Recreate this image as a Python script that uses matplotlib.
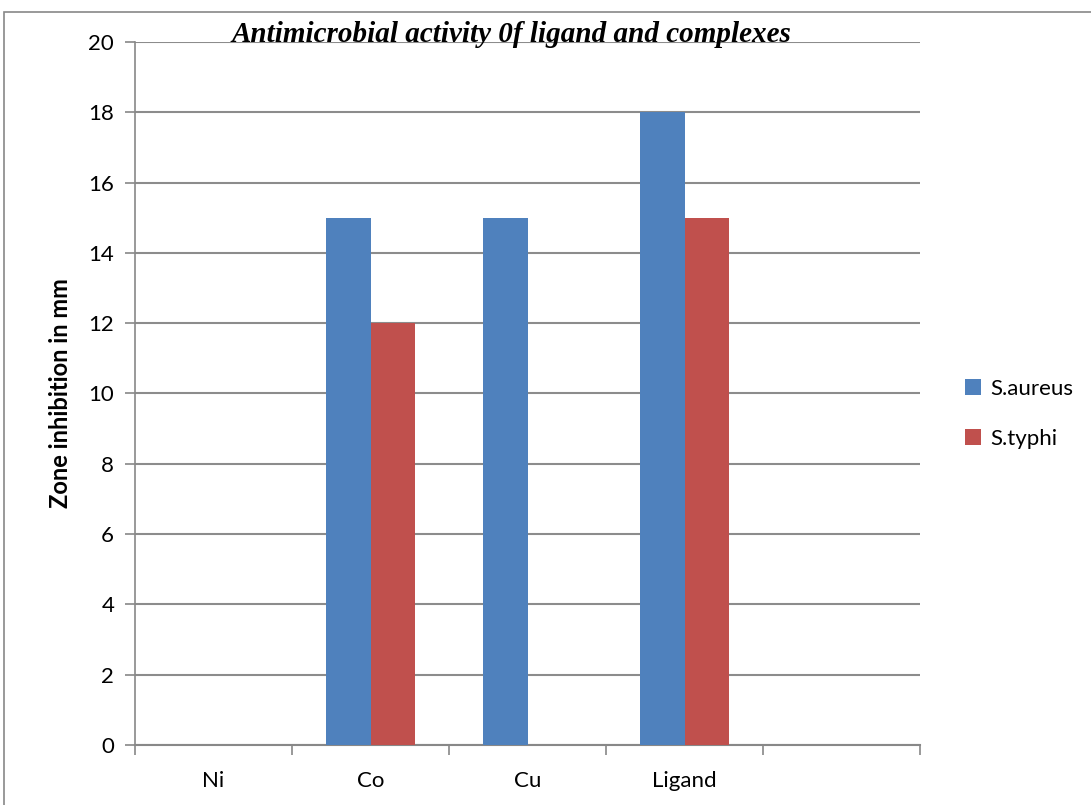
import matplotlib
matplotlib.use("Agg")
import matplotlib.pyplot as plt
import numpy as np
from matplotlib.patches import Rectangle

categories = ["Ni", "Co", "Cu", "Ligand", ""]
s_aureus = [0, 15, 15, 18, 0]
s_typhi = [0, 12, 0, 15, 0]
yticks = [0, 2, 4, 6, 8, 10, 12, 14, 16, 18, 20]

plt.rcParams['font.family'] = ['Lato', 'DejaVu Sans']

W, H = 1091, 805
fig = plt.figure(figsize=(W/100, H/100), dpi=100)
ax = fig.add_axes([135/W, 1-745/H, (920-135)/W, (745-42)/H])

x = np.arange(len(categories))
bw = 0.283
ax.bar(x - bw/2, s_aureus, bw, color="#4F81BD", label="S.aureus", zorder=3)
ax.bar(x + bw/2, s_typhi, bw, color="#C0504D", label="S.typhi", zorder=3)

ax.set_xlim(-0.5, len(categories) - 0.5)
ax.set_ylim(0, 20)
ax.set_yticks(yticks)
ax.set_yticklabels([str(v) for v in yticks], fontsize=16)
ax.set_xticks(x)
ax.set_xticklabels(categories, fontsize=16)
ax.tick_params(axis='x', length=0, pad=19)
ax.set_xticks(np.arange(-0.5, len(categories), 1), minor=True)
ax.tick_params(axis='x', which='minor', length=7, color="#888888", width=1.2, direction='out')
ax.tick_params(axis='y', length=7, color="#888888", width=1.2, direction='out', pad=8)
ax.grid(axis='y', color="#8c8c8c", linewidth=1.5, zorder=0)
ax.set_axisbelow(True)
for s in ['top', 'right']:
    ax.spines[s].set_visible(False)
ax.spines['left'].set_color("#888888")
ax.spines['bottom'].set_color("#888888")
ax.spines['bottom'].set_linewidth(1.5)
ax.spines['left'].set_linewidth(1.2)

ax.set_ylabel("Zone inhibition in mm", fontsize=17, fontweight='bold', labelpad=12)

fig.text(511/W, 1-35/H, "Antimicrobial activity 0f ligand and complexes",
         fontsize=21, fontstyle='italic', fontweight='bold',
         family=['Liberation Serif', 'DejaVu Serif'], ha='center', va='center')

fig.legend(loc='center left', bbox_to_anchor=(945/W, 1-414/H), frameon=False,
           fontsize=16, handlelength=0.7, handleheight=0.7, labelspacing=1.35,
           handletextpad=0.45)

fig.patches.append(Rectangle((4/W, -0.1), 1.2, 1.1 - 12/H, transform=fig.transFigure,
                             fill=False, edgecolor="#888888", linewidth=1.2))

fig.savefig("out.png", dpi=100)
